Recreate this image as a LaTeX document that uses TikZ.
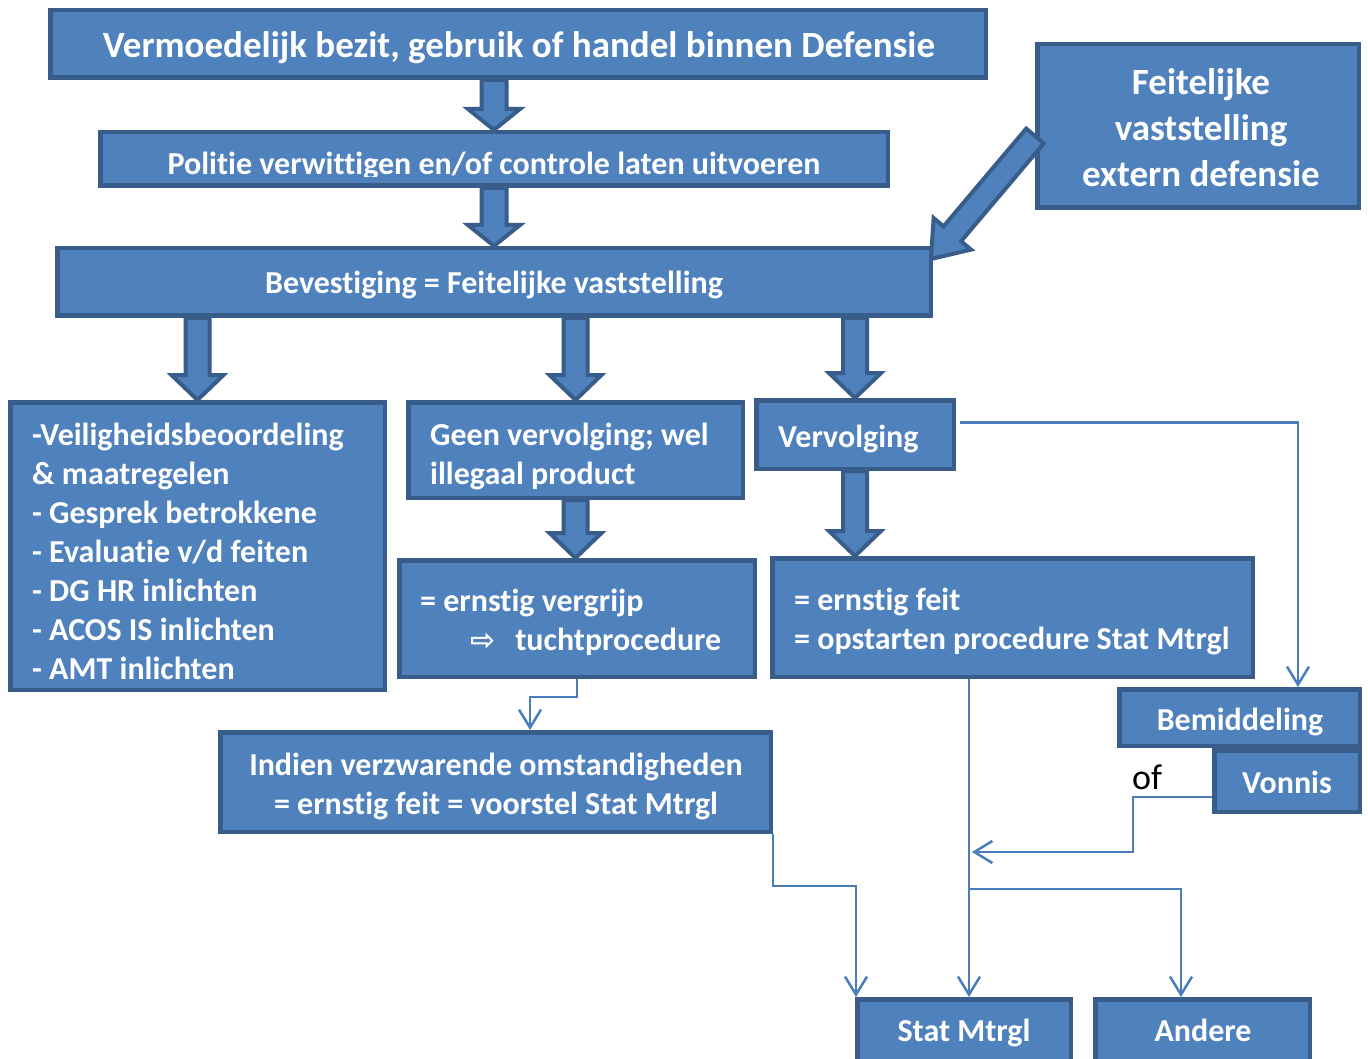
\documentclass[tikz,border=0pt]{standalone}
\usepackage{fontspec}
\setmainfont{Carlito}[Ligatures=NoCommon]
\newfontfamily\dejavu{DejaVu Sans}
\usetikzlibrary{calc,arrows.meta}
\definecolor{boxfill}{HTML}{4F81BD}
\definecolor{boxline}{HTML}{385D8A}
\definecolor{conncol}{HTML}{4A7EBB}
\tikzset{
  box/.style={draw=boxline, fill=boxfill, line width=4.5pt, inner sep=0pt, rectangle},
  wt/.style={text=white, font=\bfseries\fontsize{32}{39}\selectfont, inner sep=0pt, align=left},
  conn/.style={draw=conncol, line width=2.5pt, -{Straight Barb[length=18pt,width=22pt]}},
  blk/.style={draw=boxline, fill=boxfill, line width=4pt, line join=miter},
}
\newcommand\blockarrow[5]{%
  \coordinate (ba-s) at (#4);
  \coordinate (ba-e) at (#5);
  \coordinate (ba-h) at ($(ba-e)!#3!(ba-s)$);
  \path[blk] ($(ba-s)!#1!90:(ba-e)$) -- ($(ba-h)!#1!-90:(ba-s)$) -- ($(ba-h)!#2!-90:(ba-s)$)
    -- (ba-e) -- ($(ba-h)!#2!90:(ba-s)$) -- ($(ba-h)!#1!90:(ba-s)$) -- ($(ba-s)!#1!-90:(ba-e)$) -- cycle;
}
\begin{document}
\begin{tikzpicture}[x=1pt,y=-1pt]
\useasboundingbox (0,0) rectangle (1368,1059);
\fill[white] (0,0) rectangle (1368,1059);

% boxes
\node[box, minimum width=935.5pt, minimum height=67.5pt] (top) at (518,44) {};
\node[wt, align=center, font=\bfseries\fontsize{37}{44}\selectfont] (topT) at (519,48) {Vermoedelijk bezit, gebruik of handel binnen Defensie};

\node[box, minimum width=787.5pt, minimum height=53.5pt] (pol) at (494,159) {};
\begin{scope}
  \clip (100,132) rectangle (888,177);
  \node[wt, anchor=base] (polT) at (494,175) {Politie verwittigen en/of controle laten uitvoeren};
\end{scope}

\node[box, minimum width=873.5pt, minimum height=67.5pt] (bev) at (494,282) {};
\node[wt, align=center] (bevT) at (494,285) {Bevestiging = Feitelijke vaststelling};

\node[box, minimum width=321.5pt, minimum height=163.5pt] (fv) at (1198,126) {};
\node[wt, align=center, font=\bfseries\fontsize{37}{46}\selectfont] (fvT) at (1201,128) {Feitelijke\\vaststelling\\extern defensie};

\node[box, minimum width=374.5pt, minimum height=287.5pt] (left) at (197.5,546) {};
\node[wt, anchor=west] (leftT) at (32,551) {-Veiligheidsbeoordeling\\\& maatregelen\\- Gesprek betrokkene\\- Evaluatie v/d feiten\\- DG HR inlichten\\- ACOS IS inlichten\\- AMT inlichten};

\node[box, minimum width=334.5pt, minimum height=95.5pt] (geen) at (575.5,450) {};
\node[wt, anchor=west] (geenT) at (430,456) {Geen vervolging; wel\\illegaal product};

\node[box, minimum width=197.5pt, minimum height=68.5pt] (verv) at (855,434.5) {};
\node[wt, anchor=base west] (vervT) at (778,447) {Vervolging};

\node[box, minimum width=355.5pt, minimum height=116.5pt] (verg) at (577,618.5) {};
\node[wt, anchor=west] (vergT) at (420,622) {= ernstig vergrijp\\\hspace*{50pt}{\dejavu\fontsize{30}{39}\selectfont ⇨}\hspace{20pt}tuchtprocedure};

\node[box, minimum width=480.5pt, minimum height=118.5pt] (feit) at (1012.5,617.5) {};
\node[wt, anchor=west] (feitT) at (794,621) {= ernstig feit\\= opstarten procedure Stat Mtrgl};

\node[box, minimum width=550.5pt, minimum height=99.5pt] (ind) at (495.5,782) {};
\node[wt, align=center] (indT) at (496,786) {Indien verzwarende omstandigheden\\= ernstig feit = voorstel Stat Mtrgl};

\node[box, minimum width=240.5pt, minimum height=56.5pt] (bem) at (1239.5,717.5) {};
\node[wt, align=center] (bemT) at (1240,722) {Bemiddeling};
\node[box, minimum width=145.5pt, minimum height=61.5pt] (von) at (1287,781) {};
\node[wt, align=center] (vonT) at (1287,782) {Vonnis};

\node[box, minimum width=213.5pt, minimum height=65.5pt] (stat) at (964,1032) {};
\node[wt, align=center] (statTx) at (964,1033) {Stat Mtrgl};
\node[box, minimum width=214.5pt, minimum height=65.5pt] (andere) at (1202.5,1032) {};
\node[wt, align=center] (andT) at (1203,1030) {Andere};

\node[anchor=base, inner sep=0pt, font=\fontsize{36}{40}\selectfont] (ofT) at (1147,789) {of};

% block arrows
\blockarrow{12.5pt}{26pt}{21pt}{top.south -| pol.north}{pol.north}
\blockarrow{12.5pt}{26pt}{21pt}{pol.south}{bev.north}
\blockarrow{12pt}{26pt}{25pt}{bev.south -| left.north}{left.north}
\blockarrow{12pt}{26pt}{25pt}{bev.south -| verv.north}{verv.north}
\blockarrow{12pt}{26pt}{25pt}{bev.south -| geen.north}{geen.north}
\blockarrow{12pt}{26pt}{25pt}{geen.south}{geen.south |- verg.north}
\blockarrow{12pt}{26pt}{25pt}{verv.south}{verv.south |- feit.north}
\blockarrow{11.5pt}{24.5pt}{33pt}{$(fv.west)+(0,10)$}{$(bev.north east)+(-2,13)$}

% thin connectors
\coordinate (bemTop) at ($(bem.north)+(58.5,0)$);
\draw[conn] ($(verv.east)+(4,-12)$) -| (bemTop);
\coordinate (indTop) at ($(ind.north)+(34.5,0)$);
\draw[conn] (verg.south) -- ++(0,18) -| (indTop);
\coordinate (statL) at ($(stat.north west)+(1,0)$);
\draw[conn] (ind.south east) -- ++(0,52) -| (statL);
\coordinate (statT) at ($(stat.north)+(5,0)$);
\coordinate (fb) at (feit.south -| statT);
\draw[conn] (fb) -- (statT);
\draw[conn] ($(fb)+(0,210)$) -| ($(andere.north)+(-21.5,0)$);
\draw[conn] ($(von.west)+(0,16)$) -- ++(-79,0) |- ($(fb)+(3,173)$);
\end{tikzpicture}
\end{document}
